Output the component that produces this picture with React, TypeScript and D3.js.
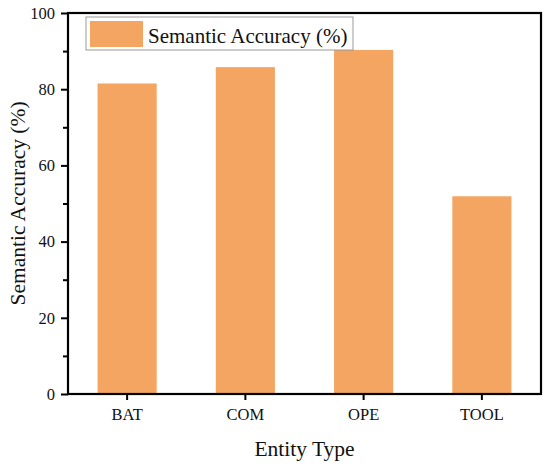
import React, { useRef, useEffect } from 'react';
import { select, scaleLinear, scaleBand, axisBottom, axisLeft, range } from "d3";

const categories = ["BAT", "COM", "OPE", "TOOL"];
const accuracy = [81.5, 85.8, 90.3, 51.9];
const yTicks = [0, 20, 40, 60, 80, 100];
const yMinorTicks = [10, 30, 50, 70, 90];
const seriesName = "Semantic Accuracy (%)";
const xTitle = "Entity Type";
const yTitle = "Semantic Accuracy (%)";

const barColor = "#F4A561";
const font = "'Liberation Serif', 'Times New Roman', serif";

function App() {
  const rootRef = useRef<SVGSVGElement>(null);
  const margin = ({ top: 13, right: 9, bottom: 76, left: 68 });
  const width = 550;
  const height = 470;

  useEffect(() => {
    const root = select(rootRef.current);
    root.selectAll("*").remove();

    const xScale = scaleBand<string>()
      .domain(categories)
      .range([margin.left, width - margin.right])
      .paddingInner(0.5)
      .paddingOuter(0.25);

    const yScale = scaleLinear()
      .domain([0, 100])
      .range([height - margin.bottom, margin.top]);

    const bottom = height - margin.bottom;

    // bars
    root.append("g")
      .selectAll("rect")
      .data(categories)
      .join("rect")
      .attr("x", d => xScale(d)!)
      .attr("y", (d, i) => yScale(accuracy[i]))
      .attr("width", xScale.bandwidth())
      .attr("height", (d, i) => bottom - yScale(accuracy[i]))
      .attr("fill", barColor);

    // minor y ticks
    const yMinor = axisLeft(yScale).tickValues(yMinorTicks).tickSize(5).tickFormat(() => "");
    root.append("g")
      .attr("transform", `translate(${margin.left},0)`)
      .call(yMinor)
      .call(g => g.select(".domain").remove())
      .call(g => g.selectAll("line").attr("stroke-width", 2));

    const yAxis = axisLeft(yScale).tickValues(yTicks).tickSize(7).tickPadding(6);
    root.append("g")
      .attr("transform", `translate(${margin.left},0)`)
      .attr("font-family", font)
      .attr("font-size", 16.5)
      .call(yAxis)
      .call(g => g.select(".domain").remove())
      .call(g => g.selectAll("line").attr("stroke-width", 2))
      .call(g => g.selectAll("text")
        .style("font-family", font)
        .style("font-size", "16.5px")
        .attr("fill", "#111"));

    const xAxis = axisBottom(xScale).tickSize(6).tickPadding(8);
    root.append("g")
      .attr("transform", `translate(0,${bottom})`)
      .call(xAxis)
      .call(g => g.select(".domain").remove())
      .call(g => g.selectAll("line").attr("stroke-width", 2))
      .call(g => g.selectAll("text")
        .style("font-family", font)
        .style("font-size", "16.5px")
        .attr("fill", "#111"));

    // frame
    root.append("rect")
      .attr("x", margin.left)
      .attr("y", margin.top)
      .attr("width", width - margin.left - margin.right)
      .attr("height", bottom - margin.top)
      .attr("fill", "none")
      .attr("stroke", "#000")
      .attr("stroke-width", 2.2);

    // axis titles
    root.append("text")
      .attr("x", (margin.left + width - margin.right) / 2)
      .attr("y", 456)
      .attr("text-anchor", "middle")
      .attr("font-family", font)
      .attr("font-size", 21.5)
      .attr("fill", "#111")
      .text(xTitle);

    root.append("text")
      .attr("transform", `translate(25,${(margin.top + bottom) / 2}) rotate(-90)`)
      .attr("text-anchor", "middle")
      .attr("font-family", font)
      .attr("font-size", 21.5)
      .attr("fill", "#111")
      .text(yTitle);

    // legend
    const legend = root.append("g").attr("transform", "translate(86,17)");
    legend.append("rect")
      .attr("width", 267)
      .attr("height", 33)
      .attr("fill", "#fff")
      .attr("stroke", "#999")
      .attr("stroke-width", 1);
    legend.selectAll("rect.swatch")
      .data(range(1))
      .join("rect")
      .attr("class", "swatch")
      .attr("x", 4)
      .attr("y", 4)
      .attr("width", 53)
      .attr("height", 26)
      .attr("fill", barColor);
    legend.append("text")
      .attr("x", 62)
      .attr("y", 26)
      .attr("font-family", font)
      .attr("font-size", 21)
      .attr("fill", "#111")
      .text(seriesName);
  });

  return (
    <div style={{ position: 'absolute', left: 0, top: 0 }}>
      <svg width={width} height={height} ref={rootRef} style={{ display: 'block', background: '#fff' }}></svg>
    </div>
  );
}

export default App;
